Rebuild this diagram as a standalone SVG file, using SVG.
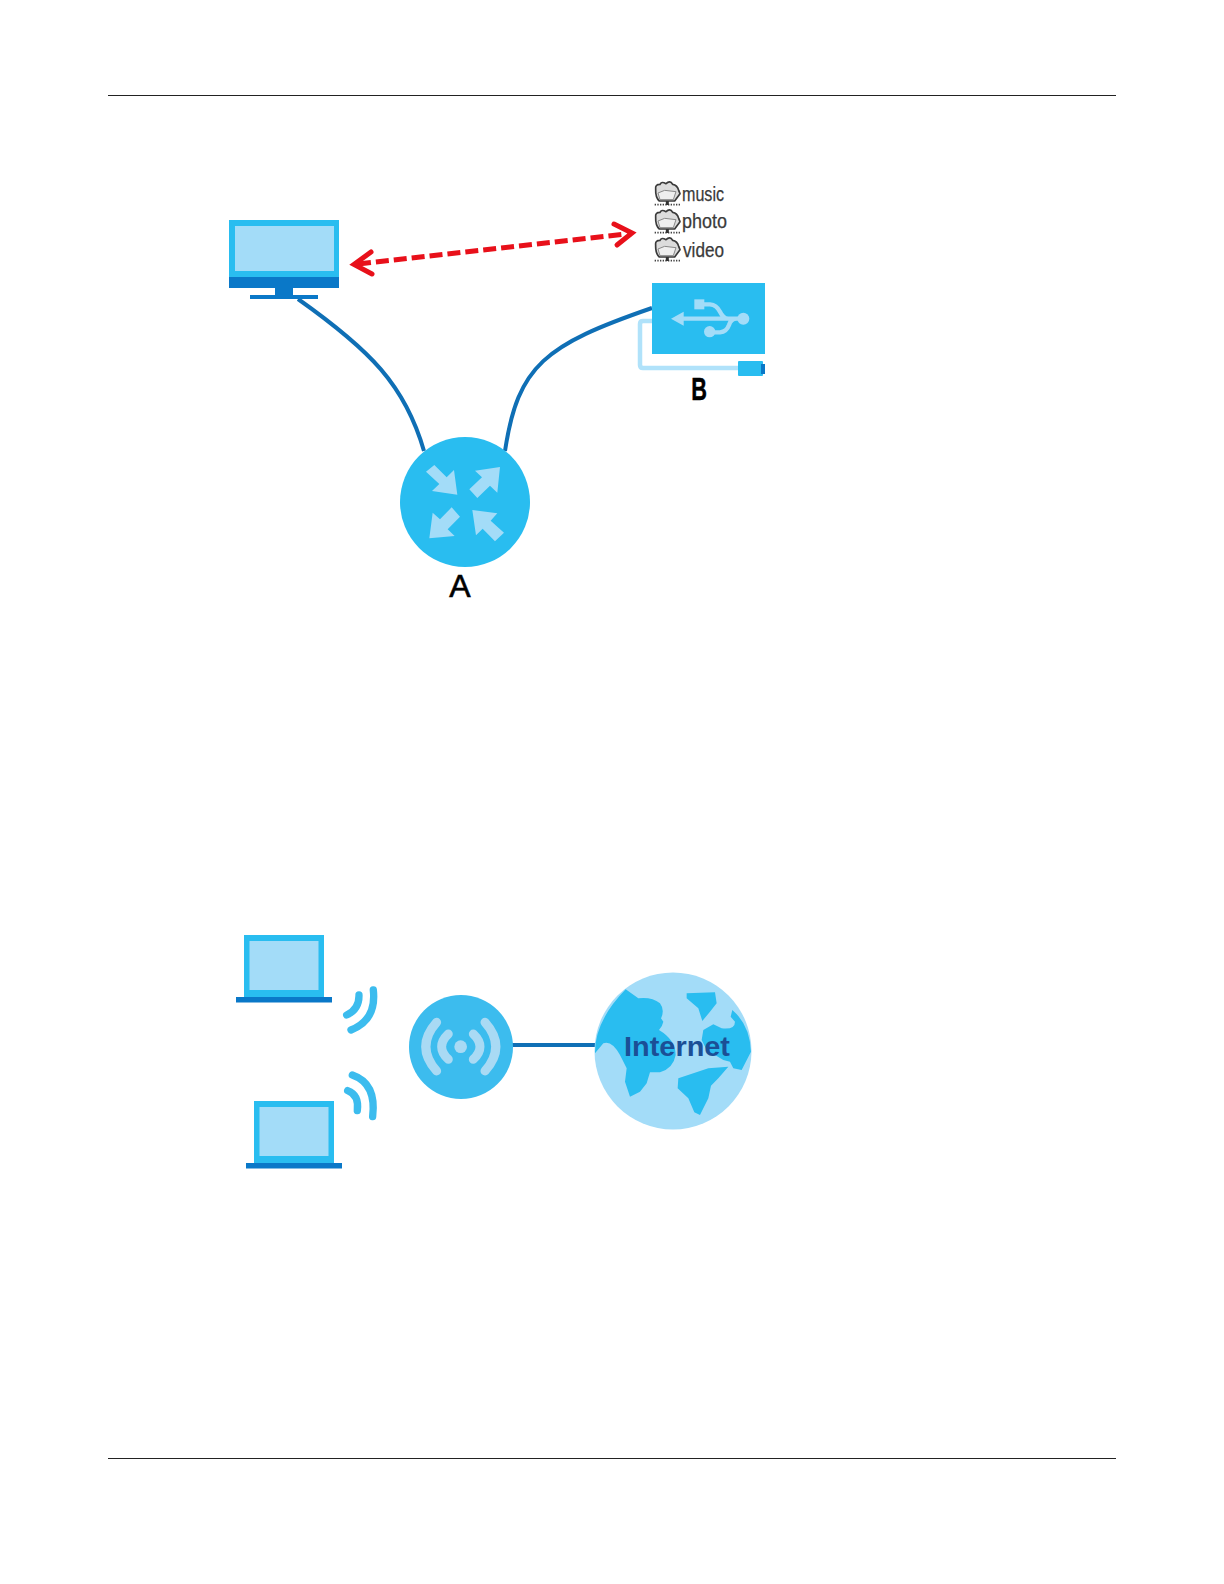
<svg xmlns="http://www.w3.org/2000/svg" width="1224" height="1584" viewBox="0 0 1224 1584">
<style>
.rule{stroke:#222;stroke-width:1.2}
.link{fill:none;stroke:#0f6fb5;stroke-width:4}
.cy{fill:#29bdf0}.lt{fill:#a3dcf8}.dk{fill:#0a78c8}
.wave{fill:none;stroke:#3cbcee;stroke-width:22;stroke-linecap:round}
.apw{fill:none;stroke:#a9daf4;stroke-width:27;stroke-linecap:round}
.ft{font-family:"Liberation Sans",Arial,sans-serif;font-size:20px;fill:#3a3a3a;stroke:#3a3a3a;stroke-width:.25}
.lb{font-family:"Liberation Sans",Arial,sans-serif;font-size:32px;fill:#000;text-anchor:middle}
.fo{fill:#dcdcdc;stroke:#3a3a3a;stroke-width:5;stroke-linejoin:round}
.fd{fill:none;stroke:#444;stroke-width:5;stroke-dasharray:4 4}
</style>
<defs>
<g id="folder" transform="scale(.3333)">
<path class="fo" d="M5,24 Q3,10 18,10 Q22,0 36,8 Q48,-4 56,10 Q70,12 74,28 L78,38 L62,60 L16,60 Q4,50 5,24 Z"/>
<path d="M12,36 L32,28 L66,32 L58,56 L18,56 Z" fill="#efefef" stroke="#888" stroke-width="3"/>
<path class="fd" d="M2,71 H78"/><path d="M40,60 V72" stroke="#333" stroke-width="9"/>
</g>
<g id="laptop"><rect class="cy" width="80" height="62" y="0"/><rect class="lt" x="5.500" y="6" width="69" height="49"/><rect class="dk" x="-8" y="62" width="96" height="5.500"/></g>
</defs>
<g id="page-rules"><line class="rule" x1="108" y1="95.500" x2="1116" y2="95.500"/><line class="rule" x1="108" y1="1458.500" x2="1116" y2="1458.500"/></g>
<g id="connectors">
<path class="link" d="M298,299 C370,350 405,385 424,451"/>
<path class="link" d="M505,451 C518,365 545,345 652,308"/>
<path class="link" d="M512,1045 H598"/>
<g fill="none" stroke="#e8101a" stroke-width="5">
<path d="M358,264 L626,234" stroke-dasharray="13 5"/>
<path d="M371,252 L354,264.500 L372,274" stroke-linecap="round"/>
<path d="M614,224 L632,233 L617,245" stroke-linecap="round"/>
</g>
</g>
<g id="monitor">
<rect class="cy" x="229" y="220" width="110" height="57"/><rect class="lt" x="235" y="226" width="99" height="45"/>
<rect class="dk" x="229" y="277" width="110" height="11"/><rect class="dk" x="275" y="288" width="18" height="8"/><rect class="dk" x="250" y="295" width="68" height="4"/>
</g>
<g id="folders">
<use href="#folder" x="654" y="181"/><use href="#folder" x="654" y="209"/><use href="#folder" x="654" y="237"/>
<text class="ft" x="682" y="201" textLength="42" lengthAdjust="spacingAndGlyphs">music</text><text class="ft" x="682" y="228" textLength="45" lengthAdjust="spacingAndGlyphs">photo</text><text class="ft" x="683" y="257" textLength="41" lengthAdjust="spacingAndGlyphs">video</text>
</g>
<g id="usb">
<path d="M652,321 H643 Q640,321 640,324 V365 Q640,368 643,368 H740" fill="none" stroke="#b0e2fa" stroke-width="4.500"/>
<rect class="cy" x="652" y="283" width="113" height="71"/>
<rect class="cy" x="738" y="361" width="25" height="15" rx="1"/><rect class="dk" x="761" y="364" width="4" height="10"/>
<g transform="translate(625 275) scale(.3333)">
<path d="M165,131 H345 M225,88 H255 Q275,90 285,110 Q295,131 310,131 M245,172 H285 Q305,170 312,150 Q318,131 335,131" fill="none" stroke="#a3dcf8" stroke-width="13"/>
<path class="lt" d="M138,131 L176,110 V152 Z"/><circle class="lt" cx="355" cy="131" r="18"/><circle class="lt" cx="254" cy="170" r="17"/><rect class="lt" x="208" y="73" width="30" height="30"/>
</g>
<text class="lb" transform="translate(699 400) scale(.68 1)" font-weight="bold" stroke="#000" stroke-width=".5">B</text>
</g>
<g id="router">
<circle class="cy" cx="465" cy="502" r="65"/>
<g class="lt" transform="translate(380 420) scale(.3333)">
<polygon points="138,155 163,135 200,172 222,150 232,224 156,213 178,192"/>
<polygon points="360,141 285,152 306,172 268,208 292,234 330,197 352,218"/>
<polygon points="148,355 158,278 180,298 215,262 240,290 203,328 224,348"/>
<polygon points="277,270 352,280 332,302 372,338 345,364 308,326 288,346"/>
</g>
<text class="lb" x="460" y="597" stroke="#000" stroke-width=".6">A</text>
</g>
<g id="laptop-1"><use href="#laptop" x="244" y="935"/>
<g transform="translate(220 920) scale(.3333)"><path class="wave" d="M417,225 Q418,268 380,285"/><path class="wave" d="M460,210 Q470,300 393,330"/></g></g>
<g id="laptop-2"><use href="#laptop" x="254" y="1101"/>
<g transform="translate(220 920) scale(.3333)"><path class="wave" d="M383,512 Q418,525 412,572"/><path class="wave" d="M397,465 Q470,490 458,590"/></g></g>
<g id="access-point">
<circle cx="461" cy="1047" r="52" fill="#3cbcee"/>
<g transform="translate(220 920) scale(.3333)">
<circle cx="722" cy="380" r="19" fill="#a9daf4"/>
<path class="apw" d="M685,342 Q645,380 685,418"/><path class="apw" d="M760,342 Q800,380 760,418"/>
<path class="apw" d="M650,307 Q585,380 650,453"/><path class="apw" d="M795,307 Q860,380 795,453"/>
</g></g>
<g id="internet">
<circle cx="673" cy="1051" r="78.500" fill="#a3dcf8"/>
<g class="cy" transform="translate(585 965) scale(.3333)">
<path d="M122,73 L160,100 Q200,95 225,115 Q240,135 228,160 L235,170 Q232,185 222,195 Q272,225 272,270 Q265,310 225,322 L195,322 L185,355 L165,380 L135,395 L120,350 L125,310 L105,270 Q80,225 55,235 L30,265 Q28,170 122,73 Z"/>
<path d="M305,85 L390,82 L395,115 L375,140 L352,168 L340,130 L305,100 Z"/>
<path d="M442,135 Q495,180 498,260 L470,315 L445,310 L435,290 L415,285 L390,270 L370,265 L350,225 L355,195 L385,178 L410,190 Q450,195 450,170 L437,155 Z"/>
<path d="M370,310 L430,305 L400,340 L378,362 L370,400 L345,450 L328,442 L310,400 L278,370 L280,340 Z"/>
</g>
<text x="624" y="1056" font-family="'Liberation Sans',Arial,sans-serif" font-size="27" font-weight="bold" fill="#1b4f96" textLength="106" lengthAdjust="spacingAndGlyphs">Internet</text>
</g>
</svg>
